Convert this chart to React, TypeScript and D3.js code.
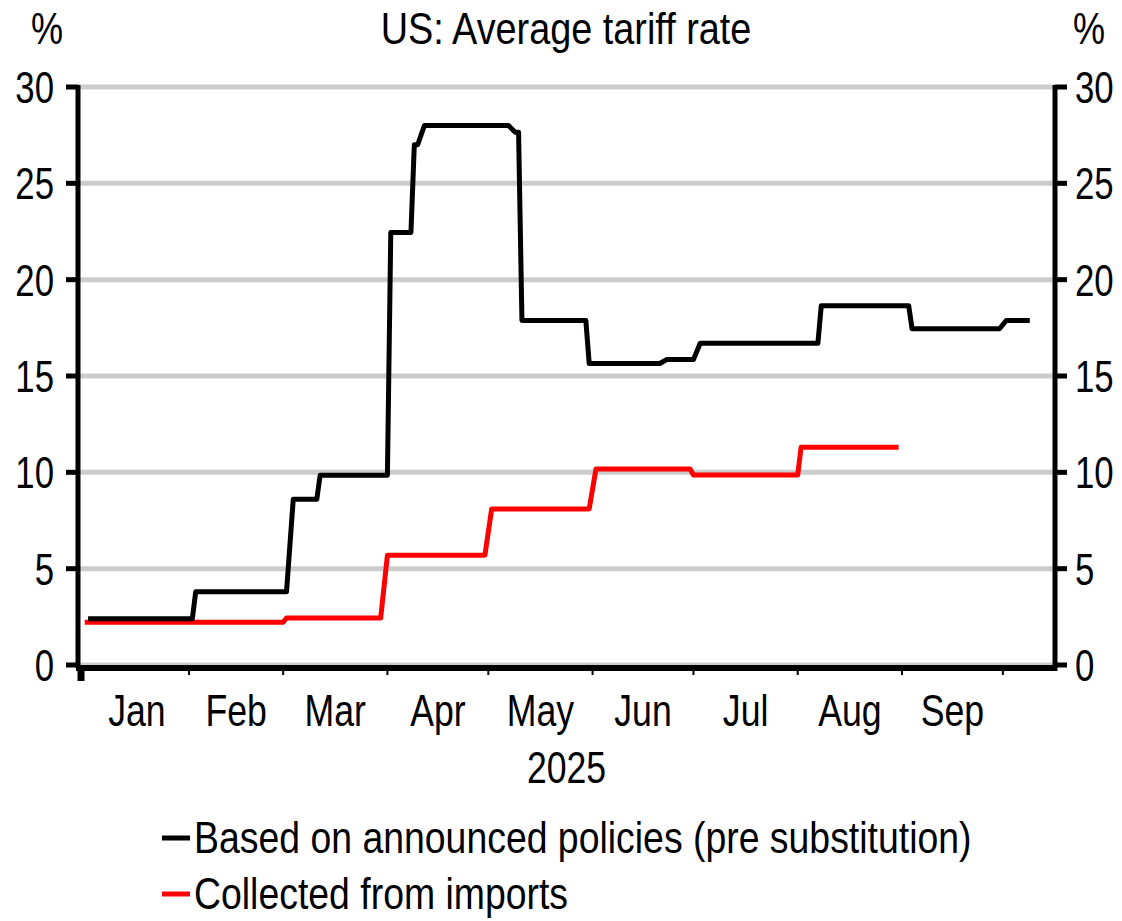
import * as React from 'react';
import * as d3 from 'd3';

// data (step vertices)
const blackDates = ['2025-01-02','2025-02-02','2025-02-03','2025-03-02','2025-03-04','2025-03-11','2025-03-12','2025-04-01','2025-04-02','2025-04-08','2025-04-09','2025-04-10','2025-04-12','2025-05-07','2025-05-09','2025-05-10','2025-05-11','2025-05-30','2025-05-31','2025-06-21','2025-06-23','2025-07-01','2025-07-03','2025-08-07','2025-08-08','2025-09-03','2025-09-04','2025-09-30','2025-10-02','2025-10-09'];
const blackValues = [2.4,2.4,3.8,3.8,8.6,8.6,9.85,9.85,22.45,22.45,27.0,27.0,28.0,28.0,27.65,27.65,17.88,17.88,15.65,15.65,15.85,15.85,16.7,16.7,18.65,18.65,17.45,17.45,17.88,17.88];

const redDates = ['2025-01-01','2025-03-01','2025-03-02','2025-03-30','2025-04-01','2025-04-30','2025-05-02','2025-05-31','2025-06-02','2025-06-30','2025-07-01','2025-08-01','2025-08-02','2025-08-31'];
const redValues = [2.22,2.22,2.44,2.44,5.7,5.7,8.1,8.1,10.17,10.17,9.86,9.86,11.3,11.3];

const monthLabels = ['Jan','Feb','Mar','Apr','May','Jun','Jul','Aug','Sep'];
const yTicks = [0,5,10,15,20,25,30];
const legendLabels = ['Based on announced policies (pre substitution)', 'Collected from imports'];
const seriesColors = ['#000000', '#ff0000'];

const W = 1122, H = 921;
const FONT = '"Liberation Sans", Arial, sans-serif';
const FS = 44;

// no narrow font installed, so squeeze Liberation Sans horizontally
const NarrowText: React.FC<{ x: number, y: number, sx: number, anchor?: string, children: React.ReactNode }> =
    ({ x, y, sx, anchor = 'start', children }) => (
        <g transform={`translate(${x},${y}) scale(${sx},1)`}>
            <text x={0} y={0} fontSize={FS} textAnchor={anchor}>{children}</text>
        </g>
    );

const App: React.FC = () => {
    const parse = d3.timeParse('%Y-%m-%d');

    const x = d3.scaleTime()
        .domain([new Date(2024, 11, 30), new Date(2025, 9, 16, 12)])
        .range([78, 1055]);
    const y = d3.scaleLinear().domain([0, 30]).range([665, 87]);

    const line = d3.line<[Date, number]>()
        .x(d => x(d[0]))
        .y(d => y(d[1]));

    const black: [Date, number][] = blackDates.map((s, i) => [parse(s) as Date, blackValues[i]]);
    const red: [Date, number][] = redDates.map((s, i) => [parse(s) as Date, redValues[i]]);

    const monthStarts = d3.timeMonth.range(new Date(2025, 0, 1), new Date(2025, 9, 2));
    const left = 78, right = 1055;

    return (
        <svg width={W} height={H} style={{ position: 'absolute', left: 0, top: 0, background: '#fff' }}
            fontFamily={FONT}>
            {/* gridlines */}
            {yTicks.map(t => (
                <line key={'g' + t} x1={left} x2={right} y1={y(t)} y2={y(t)} stroke='#cccccc' strokeWidth={5} />
            ))}

            {/* series */}
            <path d={line(red) || ''} fill='none' stroke={seriesColors[1]} strokeWidth={5} strokeLinejoin='round' />
            <path d={line(black) || ''} fill='none' stroke={seriesColors[0]} strokeWidth={5} strokeLinejoin='round' />

            {/* bottom axis */}
            <line x1={left - 2} x2={right + 2} y1={668} y2={668} stroke='#000' strokeWidth={6} />
            {monthStarts.slice(1).map((m, i) => (
                <line key={'mt' + i} x1={x(m)} x2={x(m)} y1={668} y2={675} stroke='#000' strokeWidth={2} />
            ))}
            <line x1={left + 3} x2={left + 3} y1={665} y2={681} stroke='#000' strokeWidth={7} />
            {monthLabels.map((lab, i) => {
                const a = x(monthStarts[i]);
                const b = x(d3.timeMonth.offset(monthStarts[i], 1));
                return (
                    <NarrowText key={lab} x={(a + b) / 2} y={726} sx={0.81} anchor='middle'>{lab}</NarrowText>
                );
            })}
            <NarrowText x={(left + right) / 2} y={783} sx={0.81} anchor='middle'>2025</NarrowText>

            {/* left axis */}
            <line x1={left} x2={left} y1={85} y2={668} stroke='#000' strokeWidth={5} />
            {yTicks.map(t => (
                <g key={'l' + t}>
                    <line x1={66} x2={left} y1={y(t)} y2={y(t)} stroke='#000' strokeWidth={5} />
                    <NarrowText x={54} y={y(t) + 16} sx={0.79} anchor='end'>{t}</NarrowText>
                </g>
            ))}

            {/* right axis */}
            <line x1={right} x2={right} y1={85} y2={671} stroke='#000' strokeWidth={5} />
            {yTicks.map(t => (
                <g key={'r' + t}>
                    <line x1={right} x2={1067} y1={y(t)} y2={y(t)} stroke='#000' strokeWidth={5} />
                    <NarrowText x={1075} y={y(t) + 16} sx={0.79}>{t}</NarrowText>
                </g>
            ))}

            {/* titles */}
            <NarrowText x={47} y={44} sx={0.82} anchor='middle'>%</NarrowText>
            <NarrowText x={1089} y={44} sx={0.82} anchor='middle'>%</NarrowText>
            <NarrowText x={566} y={44} sx={0.86} anchor='middle'>US: Average tariff rate</NarrowText>

            {/* legend */}
            {legendLabels.map((lab, i) => (
                <g key={lab} transform={`translate(0, ${i * 56})`}>
                    <line x1={162} x2={190} y1={838} y2={838} stroke={seriesColors[i]} strokeWidth={5} />
                    <NarrowText x={194} y={853} sx={0.85}>{lab}</NarrowText>
                </g>
            ))}
        </svg>
    );
};

export default App;
